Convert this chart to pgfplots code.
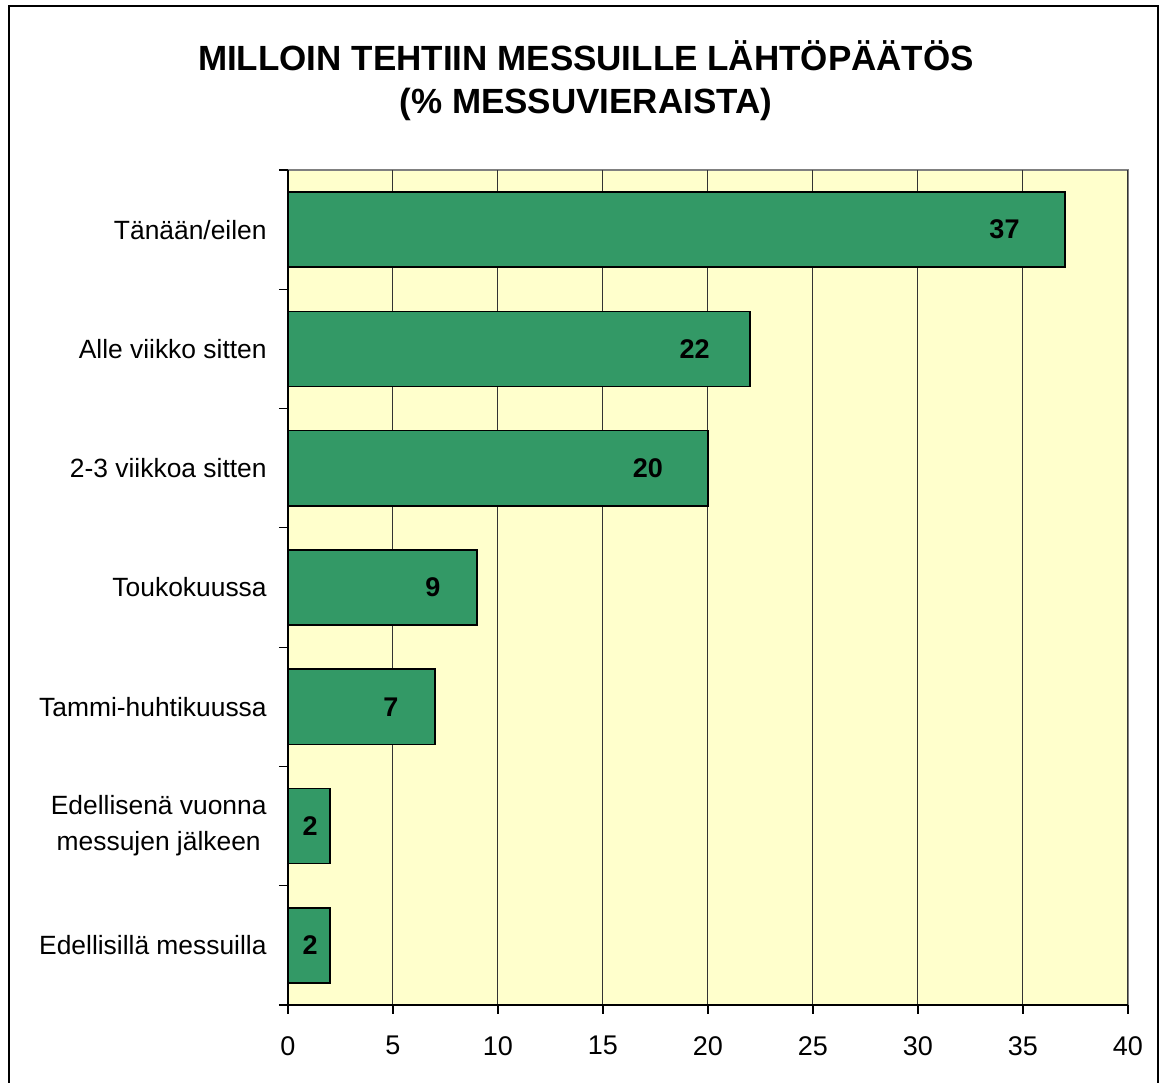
\documentclass[border=0pt]{standalone}
\usepackage{pgfplots}
\pgfplotsset{compat=1.18}
\usepackage{fontspec}
\setmainfont{Liberation Sans}
\definecolor{bargreen}{HTML}{339966}
\definecolor{bgyellow}{HTML}{FFFFCC}
\begin{document}
\begin{tikzpicture}
\useasboundingbox (-144pt,-39pt) rectangle (438pt,502.5pt);
\begin{axis}[
  at={(0pt,0pt)}, anchor=south west,
  scale only axis, width=420pt, height=417.5pt,
  xmin=0, xmax=40, ymin=-0.5, ymax=6.5,
  axis background/.style={fill=bgyellow, draw=gray, line width=0.6pt},
  axis x line*=bottom, axis y line*=left,
  axis line style={black, line width=0.8pt, -},
  xtick={0,5,...,40},
  xmajorgrids, grid style={black!80, line width=0.5pt},
  ytick={-0.5,0.5,...,6.5}, yticklabels={},
  extra y ticks={0,1,2,3,4,5,6},
  extra y tick labels={{Edellisillä messuilla},{Edellisenä vuonna\\messujen jälkeen},{Tammi-huhtikuussa},{Toukokuussa},{2-3 viikkoa sitten},{Alle viikko sitten},{Tänään/eilen}},
  extra y tick style={major tick length=0pt, yticklabel style={align=center, inner sep=0pt, xshift=-10.5pt, font=\fontsize{13.2}{18}\selectfont}},
  tick align=outside, major tick length=4.5pt,
  tick style={black, line width=0.6pt},
  /pgf/number format/assume math mode=true,
  xticklabel style={font=\fontsize{13.5}{16}\selectfont, inner sep=0pt, yshift=-11pt},
  clip=false,
]
\addplot[xbar, bar width=0.63, fill=bargreen, draw=black, line width=0.8pt]
  coordinates {(37,6) (22,5) (20,4) (9,3) (7,2) (2,1) (2,0)};
\addplot[draw=none, mark=none, nodes near coords, point meta=explicit symbolic,
  nodes near coords style={anchor=center, text=black, font=\bfseries\fontsize{13.5}{16}\selectfont}]
  coordinates {(34.12,6) [37] (19.36,5) [22] (17.14,4) [20] (6.9,3) [9] (4.9,2) [7] (1.05,1) [2] (1.05,0) [2]};
\end{axis}
\node[align=center, font=\bfseries\fontsize{17.5}{21.5}\selectfont] at (149pt,462pt) {MILLOIN TEHTIIN MESSUILLE LÄHTÖPÄÄTÖS\\(\% MESSUVIERAISTA)};
\draw[line width=1pt] (-139.5pt,-45pt) rectangle (435pt,499.5pt);
\end{tikzpicture}
\end{document}
